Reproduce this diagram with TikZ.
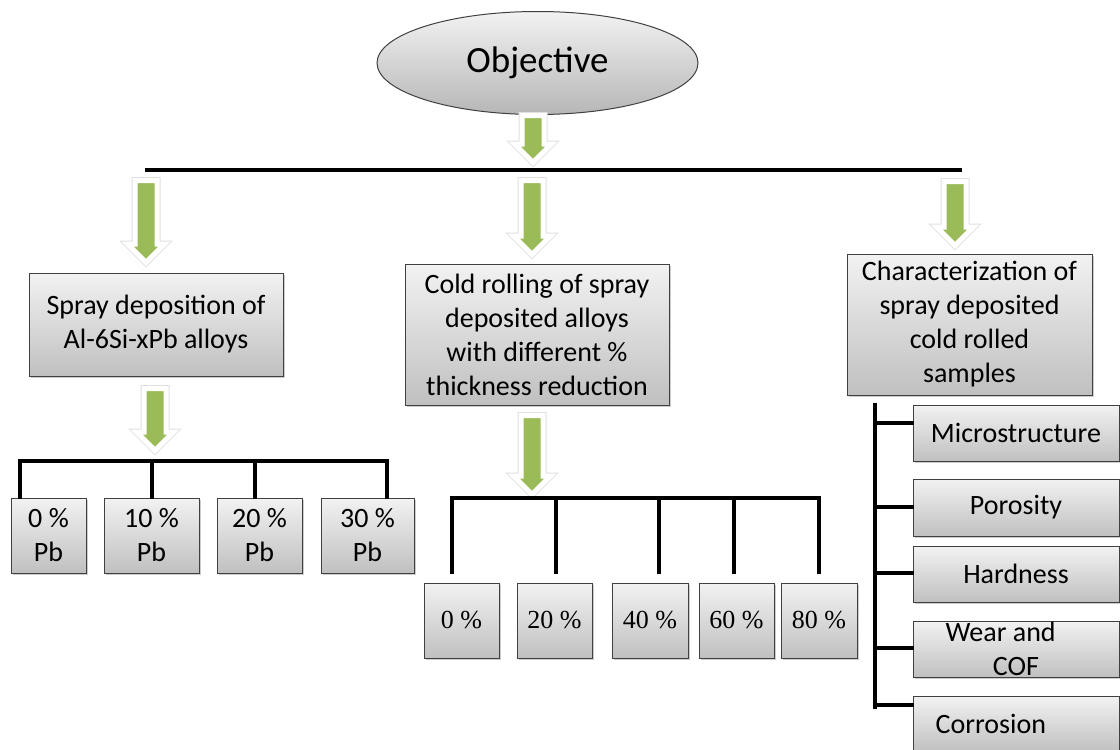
\documentclass[tikz,border=0pt]{standalone}
\usepackage{fontspec}
\usepackage{xcolor}
\usepackage{tikz}
\usetikzlibrary{shapes.geometric,shapes.arrows,shadows}
\newfontfamily\carlito{Carlito}
\newfontfamily\timesnum{Liberation Serif}
\definecolor{boxtop}{HTML}{F2F2F2}
\definecolor{boxbot}{HTML}{C0C0C0}
\definecolor{arrowgreen}{HTML}{9BBB59}

\begin{document}
\begin{tikzpicture}[x=1pt, y=-1pt,
    greybox/.style={rectangle, draw=black!75, line width=1pt, top color=boxtop, bottom color=boxbot,
        drop shadow={shadow xshift=1.5pt, shadow yshift=-1.5pt, opacity=0.4},
        align=center, inner sep=0pt, font=\carlito\fontsize{28}{34}\selectfont},
    numbox/.style={greybox, font=\timesnum\fontsize{26}{30}\selectfont},
    greenarrow/.style={single arrow, rotate=-90, anchor=tail, fill=arrowgreen, draw=white, line width=5pt,
        inner sep=8.5pt, single arrow head extend=7.5pt, preaction={draw=black!12, line width=7pt}},
    bar/.style={line width=3.5pt, line cap=rect, line join=miter}]
    \useasboundingbox (0,0) rectangle (1120,750);
    \clip (0,0) rectangle (1120,750);

    % top
    \node[ellipse, draw=black!75, line width=1pt, top color=boxtop, bottom color=boxbot!95!black,
        minimum width=321, minimum height=103, font=\carlito\fontsize{37}{40}\selectfont] (obj) at (537.5,63) {Objective};
    \node[greenarrow, minimum height=47] (a0) at (533,113) {};
    \coordinate (topL) at (147,170);
    \coordinate (topR) at (960,170);
    \draw[bar] (topL) -- (topR);

    % three branches
    \node[greenarrow, minimum height=82] (a1) at (146,178) {};
    \node[greenarrow, minimum height=74] (a2) at (532,178) {};
    \node[greenarrow, minimum height=64] (a3) at (955,179) {};

    \node[greybox, minimum width=254, minimum height=103] (spray) at (156,324.5) {Spray deposition of\\Al-6Si-xPb alloys};
    \node[greybox, minimum width=264, minimum height=141] (cold) at (537,334.5) {Cold rolling of spray\\deposited alloys\\with different \%\\thickness reduction};
    \node[greybox, minimum width=245, minimum height=141] (charac) at (969.5,324.5) {Characterization of\\spray deposited\\cold rolled\\samples};

    % Pb content
    \node[greenarrow, minimum height=62] (a4) at (155,386) {};
    \node[greybox, minimum width=75, minimum height=75] (pb0) at (48.5,535.5) {0 \%\\Pb};
    \node[greybox, minimum width=95, minimum height=75] (pb1) at (151.5,535.5) {10 \%\\Pb};
    \node[greybox, minimum width=85, minimum height=75] (pb2) at (259.5,535.5) {20 \%\\Pb};
    \node[greybox, minimum width=93, minimum height=75] (pb3) at (367.5,535.5) {30 \%\\Pb};
    \foreach \x/\n in {20/0,152/1,255/2,387/3}
        \coordinate (ld\n) at (\x,461);
    \draw[bar] (ld0) -- (ld3);
    \foreach \n in {0,...,3}
        \draw[bar] (ld\n) -- (ld\n |- pb\n.north);

    % thickness reduction
    \node[greenarrow, minimum height=79] (a5) at (532,413) {};
    \node[numbox, minimum width=75, minimum height=75] (rd0) at (461.5,620.5) {0 \%};
    \node[numbox, minimum width=75, minimum height=75] (rd1) at (554.5,620.5) {20 \%};
    \node[numbox, minimum width=76, minimum height=75] (rd2) at (650,620.5) {40 \%};
    \node[numbox, minimum width=75, minimum height=75] (rd3) at (736.5,620.5) {60 \%};
    \node[numbox, minimum width=76, minimum height=75] (rd4) at (819,620.5) {80 \%};
    \foreach \x/\n in {452/0,556/1,659/2,734/3,819/4}
        \coordinate (md\n) at (\x,498);
    \draw[bar] (md0) -- (md4);
    \foreach \n in {0,...,4}
        \draw[bar] (md\n) -- ([yshift=10pt]md\n |- rd\n.north);

    % characterization
    \node[greybox, minimum width=206, minimum height=56] (ch0) at (1016,433) {Microstructure};
    \node[greybox, minimum width=206, minimum height=57] (ch1) at (1016,507.5) {Porosity};
    \node[greybox, minimum width=206, minimum height=56] (ch2) at (1016,574) {Hardness};
    \node[greybox, minimum width=206, minimum height=56] (ch3) at (1016,649) {Wear and\hspace*{1.1em}\\COF};
    \node[greybox, minimum width=206, minimum height=56] (ch4) at (1016,724) {Corrosion\hspace*{1.8em}};
    \coordinate (spineT) at (875,405);
    \coordinate (spineB) at (875,707);
    \draw[bar] (spineT) -- (spineB);
    \foreach \y/\n in {423/0,507/1,573/2,648/3,705/4}
        \draw[bar] (spineT |- 0,\y) -- (ch\n.west |- 0,\y);
\end{tikzpicture}
\end{document}
